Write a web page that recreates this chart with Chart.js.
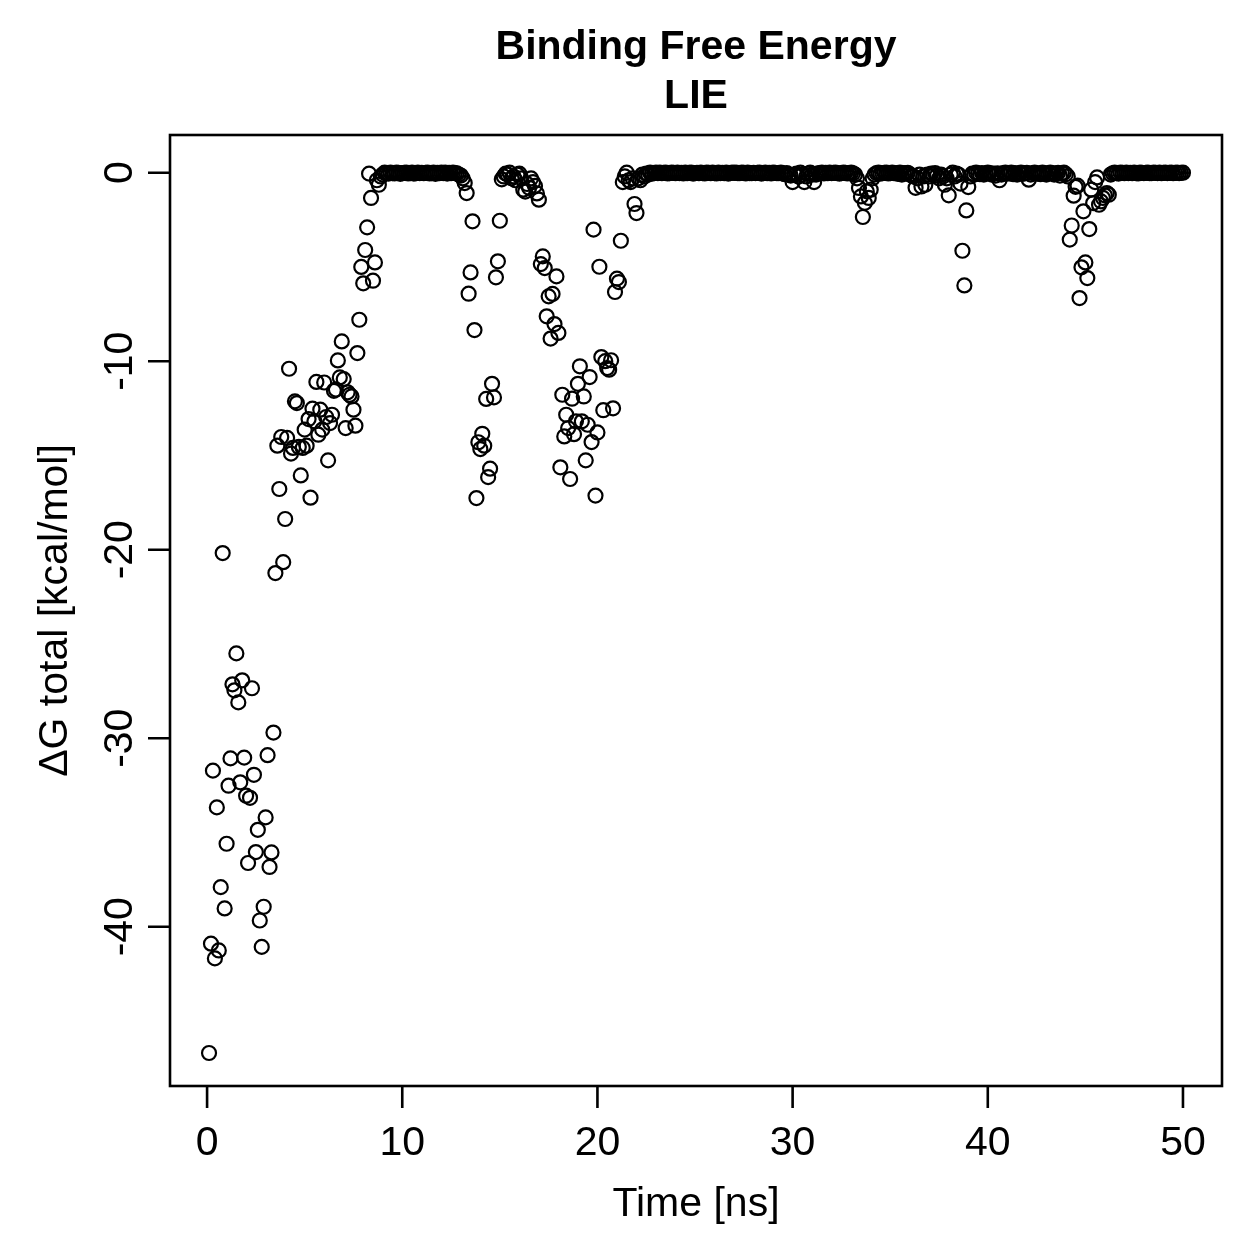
<!DOCTYPE html>
<html>
<head>
<meta charset="utf-8">
<title>Binding Free Energy - LIE</title>
<script src="https://cdn.jsdelivr.net/npm/chart.js@4.4.1/dist/chart.umd.min.js"></script>
<style>
  html, body { margin: 0; padding: 0; background: #fff; }
  #chart { display: block; }
</style>
</head>
<body>
<canvas id="chart" width="1259" height="1259"></canvas>
<script>
const titleLines = ["Binding Free Energy", "LIE"];
const xTitle = "Time [ns]";
const yTitle = "\u0394G total [kcal/mol]";
const xTicks = [0, 10, 20, 30, 40, 50];
const yTicks = [0, -10, -20, -30, -40];
const timeStep = 0.1; // ns between frames, first frame at 0.1 ns

// dG total [kcal/mol], one row per ns
const dG_0_10 = [
    -46.7, -40.9, -31.72, -41.68, -33.67, -41.26, -37.9, -20.18, -39.03, -35.6,
    -32.52, -31.07, -27.14, -27.46, -25.5, -28.1, -32.34, -26.93, -31.03, -33.05,
    -36.62, -33.16, -27.35, -31.94, -36.04, -34.86, -39.67, -41.07, -38.94, -34.2,
    -30.9, -36.83, -36.06, -29.7, -21.24, -14.48, -16.78, -14.02, -20.66, -18.37,
    -14.07, -10.4, -14.9, -14.6, -12.13, -12.22, -14.55, -16.06, -14.6, -13.63,
    -14.48, -13.07, -17.24, -12.52, -13.19, -11.1, -13.9, -12.57, -13.63, -11.13,
    -12.96, -15.26, -13.28, -12.84, -11.57, -11.5, -9.96, -10.86, -8.95, -10.95,
    -13.55, -11.65, -11.78, -11.87, -12.57, -13.42, -9.57, -7.8, -5.0, -5.87,
    -4.1, -2.9, -0.05, -1.34, -5.73, -4.76, -0.4, -0.64, -0.2, -0.1,
    0, -0.03, -0.05, 0, -0.02, -0.04, 0, -0.01, -0.06, -0.02,
];
const dG_10_20 = [
    -0.01, 0, -0.04, -0.02, 0, -0.05, -0.03, 0, -0.02, -0.01,
    -0.03, -0.01, 0, -0.04, -0.02, 0, -0.06, -0.01, -0.03, 0,
    -0.02, 0, -0.05, -0.01, -0.03, 0, -0.02, -0.04, -0.1, -0.15,
    -0.3, -0.55, -1.08, -6.42, -5.29, -2.58, -8.35, -17.26, -14.3, -14.66,
    -13.85, -14.48, -12.0, -16.15, -15.7, -11.2, -11.92, -5.55, -4.7, -2.55,
    -0.35, -0.2, -0.05, -0.1, 0.0, -0.3, -0.2, -0.4, -0.1, -0.05,
    -0.3, -0.9, -1.0, -0.6, -0.8, -0.3, -0.5, -0.7, -1.1, -1.43,
    -4.85, -4.44, -5.06, -7.62, -6.56, -8.8, -6.43, -8.03, -5.5, -8.5,
    -15.63, -11.78, -13.99, -12.84, -13.55, -16.25, -11.99, -13.87, -13.19, -11.2,
    -10.27, -13.19, -11.87, -15.26, -13.37, -10.84, -14.29, -3.02, -17.13, -13.78,
];
const dG_20_30 = [
    -4.99, -9.78, -12.6, -10.0, -10.36, -10.45, -9.95, -12.5, -6.33, -5.62,
    -5.8, -3.61, -0.5, -0.2, 0.0, -0.4, -0.5, -0.3, -1.66, -2.14,
    -0.3, -0.4, -0.1, -0.2, -0.05, -0.1, 0, -0.05, -0.02, 0,
    -0.02, 0, -0.03, -0.01, 0, -0.04, -0.02, 0, -0.01, -0.03,
    0, -0.02, -0.01, -0.04, 0, -0.03, -0.01, 0, -0.05, -0.02,
    -0.01, -0.03, 0, -0.02, -0.04, 0, -0.01, -0.03, 0, -0.02,
    -0.04, 0, -0.02, -0.01, -0.03, 0, -0.05, -0.02, 0, -0.01,
    0, -0.03, -0.02, 0, -0.01, -0.04, 0, -0.02, -0.03, -0.01,
    -0.02, -0.01, 0, -0.05, -0.02, 0, -0.03, -0.01, -0.04, 0,
    -0.01, -0.03, -0.02, 0, -0.04, -0.08, -0.02, -0.1, -0.15, -0.5,
];
const dG_30_40 = [
    -0.1, -0.05, -0.2, 0, -0.1, -0.5, -0.2, -0.05, 0, -0.1,
    -0.5, -0.1, -0.03, -0.02, 0, -0.04, -0.01, -0.03, 0, -0.02,
    -0.01, 0, -0.03, -0.05, -0.02, 0, -0.01, -0.04, -0.02, 0,
    -0.03, -0.1, -0.3, -0.81, -1.26, -2.35, -1.6, -0.99, -1.34, -0.9,
    -0.3, -0.1, -0.02, 0, -0.05, -0.03, -0.01, 0, -0.04, -0.02,
    0, -0.03, -0.02, -0.06, 0, -0.1, -0.02, -0.04, -0.01, -0.08,
    -0.15, -0.2, -0.8, -0.3, -0.1, -0.73, -0.2, -0.64, -0.1, -0.2,
    -0.05, -0.1, -0.02, -0.15, -0.3, -0.1, -0.2, -0.64, -0.3, -1.2,
    -0.1, 0, -0.2, -0.05, -0.1, -0.58, -4.14, -5.98, -2.0, -0.76,
    -0.2, -0.05, -0.1, 0, -0.03, -0.08, -0.02, -0.1, -0.04, 0,
];
const dG_40_50 = [
    -0.02, -0.1, -0.05, -0.15, -0.03, -0.4, -0.1, -0.02, 0, -0.05,
    -0.03, 0, -0.08, -0.02, -0.1, -0.04, 0, -0.06, -0.02, -0.01,
    -0.37, -0.1, -0.02, 0, -0.05, -0.03, -0.08, 0, -0.02, -0.1,
    -0.04, 0, -0.02, -0.1, -0.05, -0.01, -0.15, -0.03, 0, -0.08,
    -0.2, -3.55, -2.8, -1.22, -0.75, -0.69, -6.65, -5.02, -2.05, -4.76,
    -5.59, -2.99, -0.9, -1.61, -0.5, -0.25, -1.7, -1.52, -1.34, -1.2,
    -1.08, -1.17, -0.1, -0.03, 0, -0.02, -0.05, 0, -0.01, -0.03,
    0, -0.02, -0.01, -0.03, 0, -0.02, -0.04, 0, -0.01, -0.02,
    -0.01, 0, -0.03, -0.02, 0, -0.01, -0.02, 0, -0.03, -0.01,
    0, -0.02, -0.01, 0, -0.03, -0.01, 0, -0.02, -0.01, 0,
];

const dGtotal = [].concat(dG_0_10, dG_10_20, dG_20_30, dG_30_40, dG_40_50);
const points = dGtotal.map((v, i) => ({ x: (i + 1) * timeStep, y: v }));

const font = "'Liberation Sans', Arial, Helvetica, sans-serif";
const tickLen = 22;

// base-graphics style frame, ticks and labels drawn from the chart scales
const rAxes = {
    id: "rAxes",
    afterDraw(chart) {
        const { ctx, chartArea: a, scales: { x, y } } = chart;
        ctx.save();
        ctx.strokeStyle = "#000";
        ctx.fillStyle = "#000";
        ctx.lineWidth = 2.6;
        ctx.strokeRect(a.left, a.top, a.right - a.left, a.bottom - a.top);

        ctx.beginPath();
        xTicks.forEach((t) => {
            const px = x.getPixelForValue(t);
            ctx.moveTo(px, a.bottom);
            ctx.lineTo(px, a.bottom + tickLen);
        });
        yTicks.forEach((t) => {
            const py = y.getPixelForValue(t);
            ctx.moveTo(a.left, py);
            ctx.lineTo(a.left - tickLen, py);
        });
        ctx.stroke();

        ctx.font = "41px " + font;
        ctx.textAlign = "center";
        ctx.textBaseline = "alphabetic";
        xTicks.forEach((t) => ctx.fillText(String(t), x.getPixelForValue(t), 1155));
        yTicks.forEach((t) => {
            ctx.save();
            ctx.translate(132, y.getPixelForValue(t));
            ctx.rotate(-Math.PI / 2);
            ctx.fillText(String(t), 0, 0);
            ctx.restore();
        });

        const midX = (a.left + a.right) / 2;
        const midY = (a.top + a.bottom) / 2;
        ctx.fillText(xTitle, midX, 1216);
        ctx.save();
        ctx.translate(67, midY);
        ctx.rotate(-Math.PI / 2);
        ctx.fillText(yTitle, 0, 0);
        ctx.restore();

        ctx.font = "bold 41px " + font;
        ctx.fillText(titleLines[0], midX, 59);
        ctx.fillText(titleLines[1], midX, 108);
        ctx.restore();
    },
};

const ctx = document.getElementById("chart").getContext("2d");
const myChart = new Chart(ctx, {
    type: "scatter",
    data: {
        datasets: [
            {
                label: "dG total",
                data: points,
                pointStyle: "circle",
                pointRadius: 7,
                pointBorderWidth: 2.2,
                borderColor: "#000",
                backgroundColor: "rgba(0,0,0,0)",
            },
        ],
    },
    options: {
        responsive: false,
        animation: false,
        devicePixelRatio: 1,
        layout: { padding: { left: 170, right: 37, top: 135, bottom: 173 } },
        plugins: { legend: { display: false }, tooltip: { enabled: false } },
        scales: {
            x: { type: "linear", min: -1.9, max: 52.0, display: false },
            y: { type: "linear", min: -48.45, max: 2.0, display: false },
        },
    },
    plugins: [rAxes],
});
</script>
</body>
</html>
